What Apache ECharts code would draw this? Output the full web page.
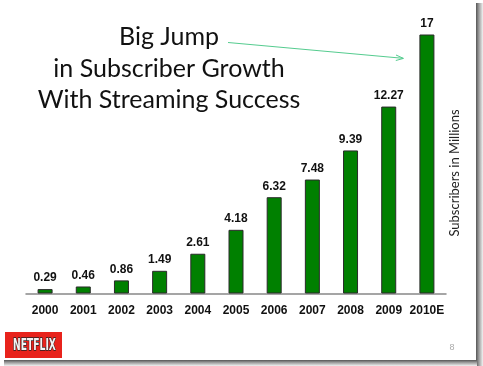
<!DOCTYPE html>
<html><head><meta charset="utf-8">
<script src="https://cdn.jsdelivr.net/npm/echarts@6/dist/echarts.min.js"></script>
<style>html,body{margin:0;padding:0;background:#fff}#c{width:483px;height:366px}</style>
</head><body><div id="c"></div>
<script>
const categories = ['2000','2001','2002','2003','2004','2005','2006','2007','2008','2009','2010E'];
const subscribers = [0.29, 0.46, 0.86, 1.49, 2.61, 4.18, 6.32, 7.48, 9.39, 12.27, 17];
const valueLabels = ['0.29','0.46','0.86','1.49','2.61','4.18','6.32','7.48','9.39','12.27','17'];
const titleLines = ['Big Jump', 'in Subscriber Growth', 'With Streaming Success'];
const yAxisTitle = 'Subscribers in Millions';

const chart = echarts.init(document.getElementById('c'), null, {renderer:'canvas'});
const titleFont = 'Lato';
chart.setOption({
  backgroundColor: '#fff',
  animation: false,
  grid: {left: 26, right: 37, top: 34.5, bottom: 72.5, containLabel: false},
  xAxis: {
    type: 'category', data: categories,
    axisLine: {show: true, lineStyle: {color: '#888', width: 1.5}},
    axisTick: {show: false},
    axisLabel: {interval: 0, color: '#111', fontFamily: 'Liberation Sans', fontWeight: 'bold', fontSize: 12, margin: 11}
  },
  yAxis: {
    type: 'value', min: 0, max: 17, show: false,
    splitLine: {show: false}
  },
  series: [{
    type: 'bar', data: subscribers, barWidth: 15,
    itemStyle: {color: '#008000', borderColor: '#2a2a2a', borderWidth: 1},
    label: {
      show: true, position: 'top', distance: 5,
      formatter: p => valueLabels[p.dataIndex],
      color: '#111', fontFamily: 'Liberation Sans', fontWeight: 'bold', fontSize: 12
    }
  }],
  graphic: [
    {type:'rect', shape:{x:476, y:3, width:7, height:363}, style:{fill:{type:'linear',x:0,y:0,x2:1,y2:0,colorStops:[{offset:0,color:'#555'},{offset:0.4,color:'#999'},{offset:1,color:'#f2f2f2'}]}}, silent:true},
    {type:'rect', shape:{x:4, y:360, width:473, height:6}, style:{fill:{type:'linear',x:0,y:0,x2:0,y2:1,colorStops:[{offset:0,color:'#555'},{offset:0.4,color:'#999'},{offset:1,color:'#f2f2f2'}]}}, silent:true},
    {type:'text', x:169, y:49, style:{text:titleLines[0], font:'25px '+titleFont, fill:'#111', textAlign:'center', textVerticalAlign:'bottom'}},
    {type:'text', x:169, y:81, style:{text:titleLines[1], font:'25px '+titleFont, fill:'#111', textAlign:'center', textVerticalAlign:'bottom'}},
    {type:'text', x:169, y:112, style:{text:titleLines[2], font:'25px '+titleFont, fill:'#111', textAlign:'center', textVerticalAlign:'bottom'}},
    {type:'line', shape:{x1:228, y1:42.5, x2:403, y2:58.3}, style:{stroke:'#55cc8f', lineWidth:1}},
    {type:'polyline', shape:{points:[[396,55],[403.5,58.4],[395.8,60.5]]}, style:{stroke:'#55cc8f', lineWidth:1, fill:null}},
    {type:'text', x:455, y:173, rotation:Math.PI/2, style:{text:yAxisTitle, font:'13px Lato', fill:'#222', textAlign:'center', textVerticalAlign:'middle'}},
    {type:'rect', shape:{x:5, y:332, width:57, height:26}, style:{fill:'#e8231c'}},
    {type:'text', x:34.5, y:345.5, scaleX:0.85, scaleY:1.3, originX:0, originY:0, style:{text:'NETFLIX', font:'bold 12px "DejaVu Sans Condensed", "Liberation Sans Narrow", sans-serif', fill:'#f4f4f4', textAlign:'center', textVerticalAlign:'middle', stroke:'#222', lineWidth:1}},
    {type:'text', x:452, y:348, style:{text:'8', font:'9px "Liberation Sans"', fill:'#aaa', textAlign:'center', textVerticalAlign:'middle'}}
  ]
});
</script></body></html>
